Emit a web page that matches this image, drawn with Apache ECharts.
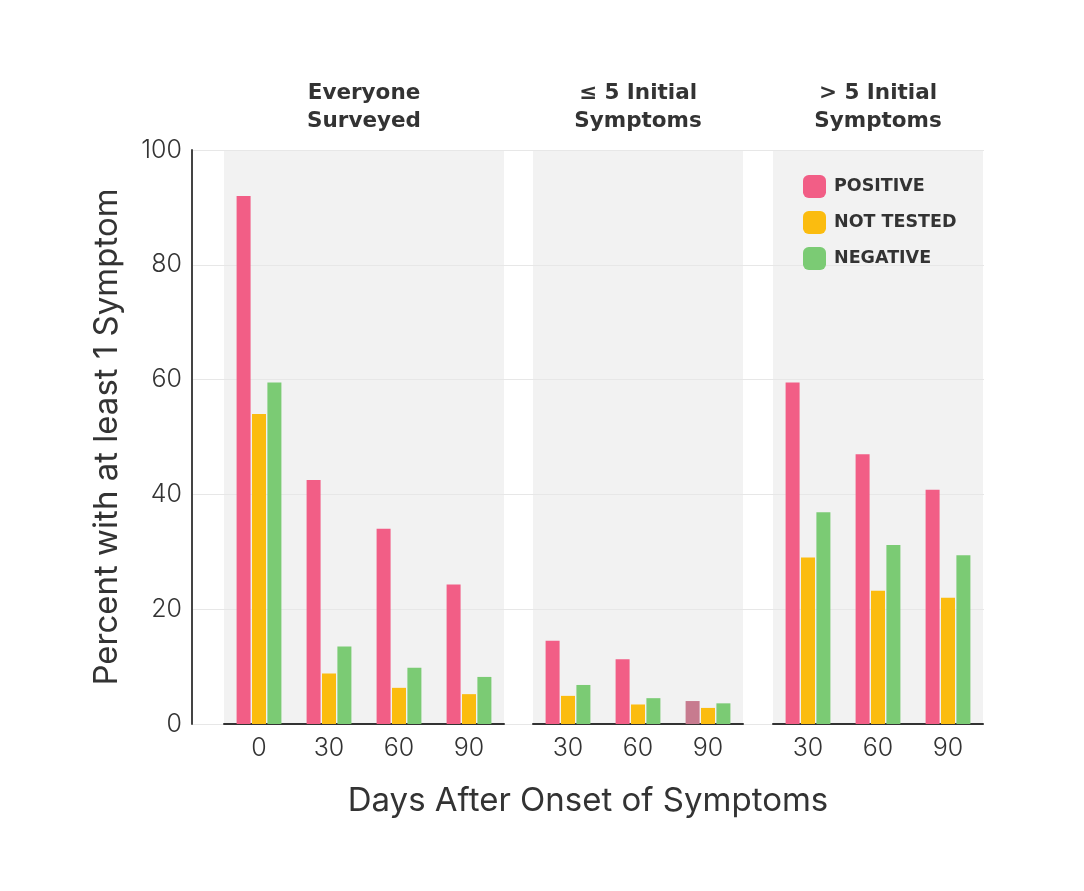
<!DOCTYPE html>
<html>
<head>
<meta charset="utf-8">
<script src="https://cdn.jsdelivr.net/npm/echarts@6/dist/echarts.min.js"></script>
<style>html,body{margin:0;padding:0;background:#fff}#c{width:1084px;height:891px}</style>
</head>
<body>
<div id="c"></div>
<script>
const panelTitles = ['Everyone\nSurveyed', '≤ 5 Initial\nSymptoms', '> 5 Initial\nSymptoms'];
const days1 = ['0', '30', '60', '90'];
const days2 = ['30', '60', '90'];
const days3 = ['30', '60', '90'];
const seriesNames = ['POSITIVE', 'NOT TESTED', 'NEGATIVE'];
// Everyone surveyed
const pos1 = [92.0, 42.5, 34.0, 24.3];
const nt1 = [54.0, 8.8, 6.3, 5.2];
const neg1 = [59.5, 13.5, 9.8, 8.2];
// <= 5 initial symptoms
const pos2 = [14.5, 11.3, 4.0];
const nt2 = [4.9, 3.4, 2.8];
const neg2 = [6.8, 4.5, 3.6];
// > 5 initial symptoms
const pos3 = [59.5, 47.0, 40.8];
const nt3 = [29.0, 23.2, 22.0];
const neg3 = [36.9, 31.2, 29.4];
const yTicks = [0, 20, 40, 60, 80, 100];

const FONT = 'Inter';
const BOLD = 'DejaVu Sans';
const colors = ['#F25E86', '#FBBC0F', '#7BCB74'];
const mauve = '#C77B8F';

const chart = echarts.init(document.getElementById('c'), null, {renderer: 'canvas'});

const panels = [
  {cats: days1, data: [pos1, nt1, neg1], left: 224, width: 280},
  {cats: days2, data: [pos2, nt2, neg2], left: 533, width: 210},
  {cats: days3, data: [pos3, nt3, neg3], left: 773, width: 210}
];

const grids = [{left: 192, right: 100, top: 150, bottom: 167, z: 0}];
const xAxes = [{
  gridIndex: 0, type: 'value', min: 0, max: 1, show: true,
  axisLine: {show: false}, axisTick: {show: false}, axisLabel: {show: false}, splitLine: {show: false},
  name: 'Days After Onset of Symptoms', nameLocation: 'middle', nameGap: 61,
  nameTextStyle: {fontFamily: FONT, fontSize: 33, color: '#333'}
}];
const yAxes = [{
  gridIndex: 0, type: 'value', min: yTicks[0], max: yTicks[yTicks.length - 1], interval: 20,
  axisLine: {show: true, lineStyle: {color: '#444', width: 2}},
  axisTick: {show: false},
  axisLabel: {fontFamily: FONT, fontSize: 25, color: '#333', margin: 10, fontWeight: 300},
  splitLine: {show: true, lineStyle: {color: '#e7e7e7', width: 1}},
  name: 'Percent with at least 1 Symptom', nameLocation: 'middle', nameGap: 68,
  nameTextStyle: {fontFamily: FONT, fontSize: 33, color: '#333'}
}];
const series = [];

panels.forEach((p, i) => {
  const gi = i + 1;
  grids.push({left: p.left, width: p.width, top: 150, bottom: 167, show: true,
    backgroundColor: '#f2f2f2', borderWidth: 0, z: 0});
  xAxes.push({
    gridIndex: gi, type: 'category', data: p.cats, position: 'bottom',
    axisLine: {show: true, lineStyle: {color: '#333', width: 2}},
    axisTick: {show: false},
    axisLabel: {fontFamily: FONT, fontSize: 25, color: '#333', margin: 12, fontWeight: 300},
    splitLine: {show: false}
  });
  xAxes.push({
    gridIndex: gi, type: 'category', data: p.cats, position: 'top',
    axisLine: {show: false}, axisTick: {show: false}, axisLabel: {show: false},
    name: panelTitles[i], nameLocation: 'middle', nameGap: 15,
    nameTextStyle: {fontFamily: BOLD, fontSize: 21.5, fontWeight: 'bold', color: '#333', lineHeight: 28}
  });
  yAxes.push({
    gridIndex: gi, type: 'value', min: 0, max: 100, interval: 20, show: false,
    splitLine: {show: false}
  });
  p.data.forEach((vals, s) => {
    series.push({
      type: 'bar', name: seriesNames[s],
      xAxisIndex: 2 * i + 1, yAxisIndex: gi,
      barWidth: 14, barGap: '10%',
      itemStyle: {color: colors[s]},
      data: vals.map((v, k) => (i === 1 && s === 0 && k === 2) ? {value: v, itemStyle: {color: mauve}} : v),
      z: 3
    });
  });
});

chart.setOption({
  animation: false,
  backgroundColor: '#fff',
  textStyle: {fontFamily: FONT},
  grid: grids,
  xAxis: xAxes,
  yAxis: yAxes,
  legend: {
    data: seriesNames, orient: 'vertical', left: 798, top: 170,
    icon: 'roundRect', itemWidth: 23, itemHeight: 23, itemGap: 13,
    textStyle: {fontFamily: BOLD, fontSize: 17.5, fontWeight: 'bold', color: '#333', padding: [0, 0, 0, 3]},
    selectedMode: false
  },
  series: series
});
</script>
</body>
</html>
